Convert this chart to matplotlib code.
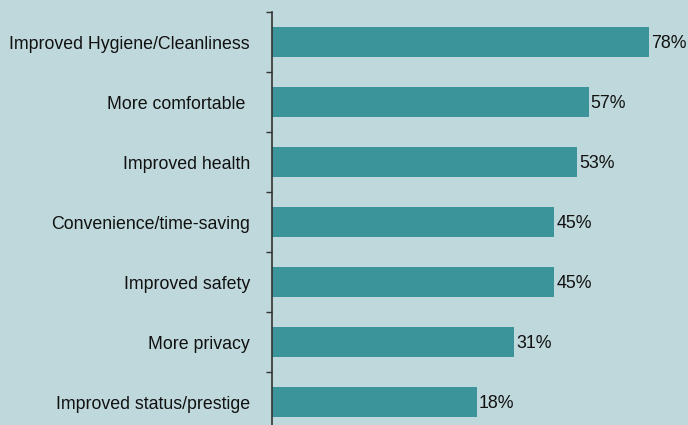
import matplotlib
matplotlib.use("Agg")
import matplotlib.pyplot as plt
import numpy as np

categories = ["Improved Hygiene/Cleanliness", "More comfortable ", "Improved health",
              "Convenience/time-saving", "Improved safety", "More privacy",
              "Improved status/prestige"]
values = [78, 57, 53, 45, 45, 31, 18]
value_labels = ["78%", "57%", "53%", "45%", "45%", "31%", "18%"]

axis_start = -53.3  # value at which the category axis sits
axis_end = 91.6

BG = "#BFD8DB"
BAR = "#3A9499"

plt.rcParams['font.family'] = ['Liberation Sans', 'DejaVu Sans']

fig = plt.figure(figsize=(6.88, 4.25), dpi=100)
fig.patch.set_facecolor(BG)
ax = fig.add_axes([272/688, -7/425, 1 - 272/688, 420/425])
ax.set_facecolor(BG)

n = len(categories)
y = np.arange(n)
lengths = [v - axis_start for v in values]
ax.barh(y, lengths, left=axis_start, height=0.5, color=BAR, zorder=2)

for yi, v, lab in zip(y, values, value_labels):
    ax.annotate(lab, (v, yi), xytext=(1.5, -1), textcoords="offset points",
                va="center", ha="left", fontsize=12.8, color="#111111")

ax.set_xlim(axis_start, axis_end)
ax.set_ylim(n - 0.5, -0.5)

ax.set_yticks(y)
ax.set_yticklabels(categories, fontsize=12.8, color="#111111")
ax.tick_params(axis="y", which="major", length=0, pad=16)
ax.set_yticks(np.arange(n + 1) - 0.5, minor=True)
ax.tick_params(axis="y", which="minor", length=4.5, width=1, color="#333333", direction="out")
ax.set_xticks([])

for s in ["top", "right", "bottom"]:
    ax.spines[s].set_visible(False)
ax.spines["left"].set_color("#333333")
ax.spines["left"].set_linewidth(1.2)

fig.savefig("out.png", dpi=100, facecolor=BG)
